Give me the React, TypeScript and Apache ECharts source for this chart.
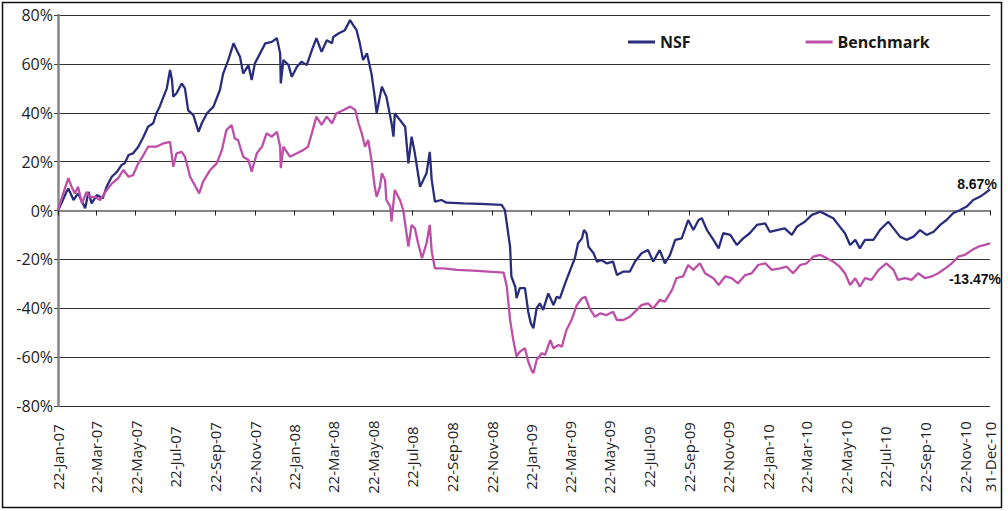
import React, { useEffect, useRef } from 'react';
import * as echarts from 'echarts';

// X-axis tick labels (dates shown on the axis)
const tickLabels: string[] = [
  '22-Jan-07', '22-Mar-07', '22-May-07', '22-Jul-07', '22-Sep-07', '22-Nov-07',
  '22-Jan-08', '22-Mar-08', '22-May-08', '22-Jul-08', '22-Sep-08', '22-Nov-08',
  '22-Jan-09', '22-Mar-09', '22-May-09', '22-Jul-09', '22-Sep-09', '22-Nov-09',
  '22-Jan-10', '22-Mar-10', '22-May-10', '22-Jul-10', '22-Sep-10', '22-Nov-10',
  '31-Dec-10',
];

const startLabel = '22-Jan-07';

// [days since 22-Jan-07, cumulative return %]
const nsfPoints: [number, number][] = [
  [0, 0], [6, 3.4], [13, 7.6], [16, 9], [24, 4.3], [31, 7], [42, 0.9], [47, 7.6], [52, 2.9], [60, 6.3],
  [69, 5], [75, 9.7], [83, 13.8], [91, 15.8], [98, 18.6], [103, 19.3], [109, 22.7], [116, 23.4], [124, 26.1],
  [132, 30.2], [139, 34.3], [147, 35.7], [152, 39.8], [157, 42.5], [163, 46.6], [168, 50], [173, 57.5],
  [176, 53.4], [178, 46.6], [183, 48], [191, 52], [196, 50], [201, 41], [209, 39], [217, 32.2], [222, 35.7],
  [230, 39.8], [240, 42.5], [250, 49.3], [255, 56], [263, 61.6], [271, 68.4], [276, 65.6], [281, 62.9],
  [286, 56], [294, 59.5], [299, 53.4], [304, 60.2], [312, 64.3], [320, 68.4], [330, 69], [338, 70.5],
  [343, 64.3], [344, 52], [348, 61.6], [356, 59.5], [361, 54.7], [369, 58.8], [376, 60.9], [384, 59.5],
  [392, 65.6], [399, 70.5], [407, 64.9], [415, 69.7], [423, 68.4], [425, 71], [433, 72.4], [443, 73.8],
  [451, 77.9], [456, 75.8], [461, 73.8], [466, 68.4], [471, 61.6], [477, 64.3], [484, 56], [489, 46.6],
  [492, 39.8], [497, 46.6], [500, 50.7], [507, 46.6], [515, 35.7], [518, 30.2], [520, 39.8], [528, 37],
  [536, 34.3], [541, 19.3], [546, 30.2], [551, 23.4], [559, 9.7], [564, 12.5], [569, 15.2], [574, 24],
  [577, 12.5], [582, 3.6], [592, 4.3], [600, 3.2], [626, 2.9], [652, 2.7], [685, 2.3], [690, 0.2],
  [698, -14.8], [700, -27], [706, -31.2], [708, -35.9], [713, -31.8], [721, -31.8], [726, -41.4],
  [730, -46.1], [734, -48.2], [739, -40], [744, -38], [749, -40.7], [757, -33.9], [765, -38.7],
  [770, -35.3], [775, -35.9], [783, -29.8], [791, -24.3], [798, -19.5], [803, -13.4], [809, -11.4],
  [812, -8], [816, -9.3], [819, -14.8], [827, -17.5], [832, -20.9], [839, -20.3], [847, -21.6],
  [857, -20.9], [863, -26.4], [873, -25], [883, -25], [891, -20.9], [901, -17.5], [911, -16.2],
  [919, -20.9], [929, -16.2], [937, -21.6], [945, -18.2], [953, -12], [963, -11.4], [973, -3.9],
  [981, -8], [989, -3.9], [994, -3.2], [1002, -8], [1012, -12], [1020, -15.5], [1027, -9.3], [1038, -10],
  [1048, -14.1], [1058, -11.4], [1068, -9.3], [1079, -5.9], [1092, -5.3], [1099, -8.7], [1110, -8],
  [1122, -7.3], [1133, -10], [1141, -6.6], [1153, -4.6], [1164, -1.8], [1177, -0.5], [1187, -1.8],
  [1197, -3.2], [1207, -6.6], [1215, -9.3], [1223, -14.1], [1231, -12], [1238, -15.5], [1246, -12],
  [1259, -12], [1269, -8], [1282, -4.6], [1290, -7.3], [1300, -10.7], [1310, -12], [1321, -10.7],
  [1331, -8], [1341, -10], [1352, -8.7], [1362, -5.9], [1372, -3.9], [1382, -1.1], [1393, 0.2],
  [1403, 1.6], [1413, 4.3], [1424, 5.7], [1431, 7], [1439, 8.67],
];

const benchmarkPoints: [number, number][] = [
  [0, 0], [8, 7], [16, 13.2], [21, 9.7], [26, 7], [31, 9.7], [37, 2.9], [44, 7.6], [49, 5.6], [57, 5.6],
  [65, 4.3], [75, 8.3], [83, 11], [93, 13.2], [101, 16.6], [109, 13.8], [116, 14.5], [124, 19.3],
  [132, 22.7], [139, 26.1], [152, 26.1], [163, 27.5], [173, 28.1], [178, 17.9], [183, 23.4], [191, 24],
  [196, 22], [204, 13.8], [214, 9], [218, 7], [224, 11.8], [235, 16.6], [245, 19.3], [253, 24.7],
  [260, 32.9], [268, 35], [273, 29.5], [278, 28.8], [286, 22], [294, 20.7], [299, 15.9], [307, 23.4],
  [315, 26.1], [322, 31.6], [330, 30.2], [338, 32.2], [343, 26.1], [344, 17.3], [348, 26.1], [358, 22],
  [369, 23.4], [379, 24.8], [386, 26.1], [394, 33.6], [399, 38.4], [407, 35], [415, 38.4], [423, 35.7],
  [430, 39.8], [441, 41.1], [451, 42.5], [459, 41.1], [464, 35.7], [469, 31.6], [474, 26.1], [479, 28.8],
  [484, 20.6], [489, 9.7], [492, 5.6], [497, 9.7], [500, 15.2], [505, 12.5], [507, 4.3], [513, 1.6],
  [515, -4.6], [520, 8.4], [528, 4.3], [533, 0.2], [541, -14.8], [546, -5.9], [551, -7.3], [556, -13.4],
  [562, -19.5], [569, -13.4], [574, -5.9], [577, -16.8], [582, -23.7], [595, -23.7], [616, -24.3],
  [641, -24.6], [688, -25.4], [693, -31.2], [698, -44.8], [703, -53], [708, -59.8], [713, -57.8],
  [721, -56.4], [726, -61.8], [731, -65.3], [734, -66.6], [739, -61.2], [747, -58.4], [752, -59.1],
  [760, -53], [765, -56.4], [773, -55], [778, -55.7], [785, -48.9], [793, -44.8], [801, -38.7],
  [809, -35.9], [814, -35.3], [821, -40.1], [829, -43.5], [837, -42.1], [847, -42.8], [857, -41.4],
  [863, -44.8], [873, -44.8], [883, -43.5], [891, -41.4], [901, -38.7], [911, -38], [919, -40.1],
  [929, -36.6], [937, -37.3], [948, -32.5], [955, -27.7], [965, -27], [973, -22.3], [981, -24.3],
  [991, -21.6], [999, -25.7], [1012, -27.7], [1020, -30.5], [1030, -27], [1040, -27.7], [1050, -29.8],
  [1061, -26.4], [1071, -25.7], [1081, -22.3], [1092, -21.6], [1102, -24.3], [1115, -23.7], [1125, -23],
  [1135, -25.7], [1146, -22.3], [1156, -21.6], [1166, -18.9], [1177, -18.2], [1187, -19.5], [1197, -20.9],
  [1207, -23], [1215, -25.7], [1223, -30.5], [1231, -27.7], [1238, -31.2], [1246, -27.7], [1256, -28.4],
  [1267, -24.3], [1279, -21.6], [1290, -24.3], [1297, -28.4], [1308, -27.7], [1318, -28.4], [1328, -25.7],
  [1339, -27.7], [1349, -27], [1359, -25.7], [1370, -23.7], [1380, -21.6], [1390, -18.9], [1400, -18.2],
  [1411, -16.2], [1421, -14.8], [1431, -14.1], [1439, -13.47],
];

const MONTHS = ['Jan', 'Feb', 'Mar', 'Apr', 'May', 'Jun', 'Jul', 'Aug', 'Sep', 'Oct', 'Nov', 'Dec'];

function parseLabel(s: string): Date {
  const [d, m, y] = s.split('-');
  return new Date(2000 + Number(y), MONTHS.indexOf(m), Number(d));
}

function dayToTime(day: number): number {
  const s = parseLabel(startLabel);
  return new Date(s.getFullYear(), s.getMonth(), s.getDate() + day).getTime();
}

export default function App() {
  const ref = useRef<HTMLDivElement>(null);

  useEffect(() => {
    if (!ref.current) return;
    const chart = echarts.init(ref.current, null, { renderer: 'svg' });
    const tickTimes = tickLabels.map((l) => parseLabel(l).getTime());
    const labelByTime = new Map<number, string>(tickTimes.map((t, i) => [t, tickLabels[i]]));
    const xMin = tickTimes[0];
    const xMax = tickTimes[tickTimes.length - 1];
    const font = "'Open Sans', sans-serif";
    const box = { left: 58, right: 18, top: 15, bottom: 105 };
    const nsfLast = nsfPoints[nsfPoints.length - 1];
    const benchLast = benchmarkPoints[benchmarkPoints.length - 1];
    const endLabel = (text: string, offset: number[]) => ({
      show: true,
      position: 'inside',
      offset,
      formatter: text,
      color: '#111',
      fontFamily: "'Liberation Sans', Arial, sans-serif",
      fontWeight: 'bold',
      fontSize: 14,
    });

    chart.setOption({
      animation: false,
      backgroundColor: '#ffffff',
      graphic: [
        {
          type: 'rect',
          silent: true,
          shape: { x: 2.5, y: 2.5, width: 999, height: 505 },
          style: { fill: 'none', stroke: '#111', lineWidth: 1.5 },
        },
      ],
      legend: {
        data: ['NSF', 'Benchmark'],
        left: 623,
        top: 29,
        icon: 'rect',
        itemWidth: 27,
        itemHeight: 3,
        itemGap: 115,
        textStyle: { fontFamily: font, fontWeight: 'bold', fontSize: 16, color: '#1a1a1a' },
      },
      grid: [{ ...box }, { ...box }],
      xAxis: [
        {
          type: 'value',
          gridIndex: 0,
          min: xMin,
          max: xMax,
          position: 'bottom',
          axisLine: { show: false, onZero: false },
          axisTick: { show: false },
          splitLine: { show: false },
          axisLabel: {
            customValues: tickTimes,
            formatter: (v: number) => labelByTime.get(v) ?? '',
            rotate: 90,
            align: 'center',
            verticalAlign: 'middle',
            margin: 51,
            fontFamily: font,
            fontSize: 15,
            color: '#222',
            hideOverlap: false,
          },
        },
        {
          type: 'value',
          gridIndex: 1,
          min: xMin,
          max: xMax,
          axisLine: { show: true, onZero: true, lineStyle: { color: '#858585', width: 2 } },
          axisTick: { show: true, customValues: tickTimes, length: 5, lineStyle: { color: '#222', width: 1 } },
          axisLabel: { show: false },
          splitLine: { show: false },
        },
      ],
      yAxis: [
        {
          type: 'value',
          gridIndex: 0,
          min: -80,
          max: 80,
          interval: 20,
          axisLine: { show: true, onZero: false, lineStyle: { color: '#858585', width: 2.5 } },
          axisTick: { show: true, length: 4, lineStyle: { color: '#444' } },
          axisLabel: { formatter: '{value}%', fontFamily: font, fontSize: 16, color: '#222', margin: 5 },
          splitLine: { show: true, lineStyle: { color: '#333', width: 1.2 } },
        },
        { type: 'value', gridIndex: 1, min: -80, max: 80, interval: 20, show: false },
      ],
      series: [
        {
          name: 'NSF',
          type: 'line',
          xAxisIndex: 0,
          yAxisIndex: 0,
          showSymbol: false,
          color: '#2A2D7C',
          lineStyle: { color: '#2A2D7C', width: 2.3 },
          data: nsfPoints.map(([d, v]) => [dayToTime(d), v]),
          markPoint: {
            symbol: 'circle',
            symbolSize: 1,
            itemStyle: { color: 'rgba(0,0,0,0)' },
            data: [{ coord: [dayToTime(nsfLast[0]), nsfLast[1]], label: endLabel(`${nsfLast[1]}%`, [-13, -5]) }],
          },
        },
        {
          name: 'Benchmark',
          type: 'line',
          xAxisIndex: 0,
          yAxisIndex: 0,
          showSymbol: false,
          color: '#BD4FA8',
          lineStyle: { color: '#BD4FA8', width: 2.3 },
          data: benchmarkPoints.map(([d, v]) => [dayToTime(d), v]),
          markPoint: {
            symbol: 'circle',
            symbolSize: 1,
            itemStyle: { color: 'rgba(0,0,0,0)' },
            data: [{ coord: [dayToTime(benchLast[0]), benchLast[1]], label: endLabel(`${benchLast[1]}%`, [-15, 36]) }],
          },
        },
      ],
    });
    return () => chart.dispose();
  }, []);

  return <div ref={ref} style={{ position: 'absolute', left: 0, top: 0, width: 1008, height: 511 }} />;
}
